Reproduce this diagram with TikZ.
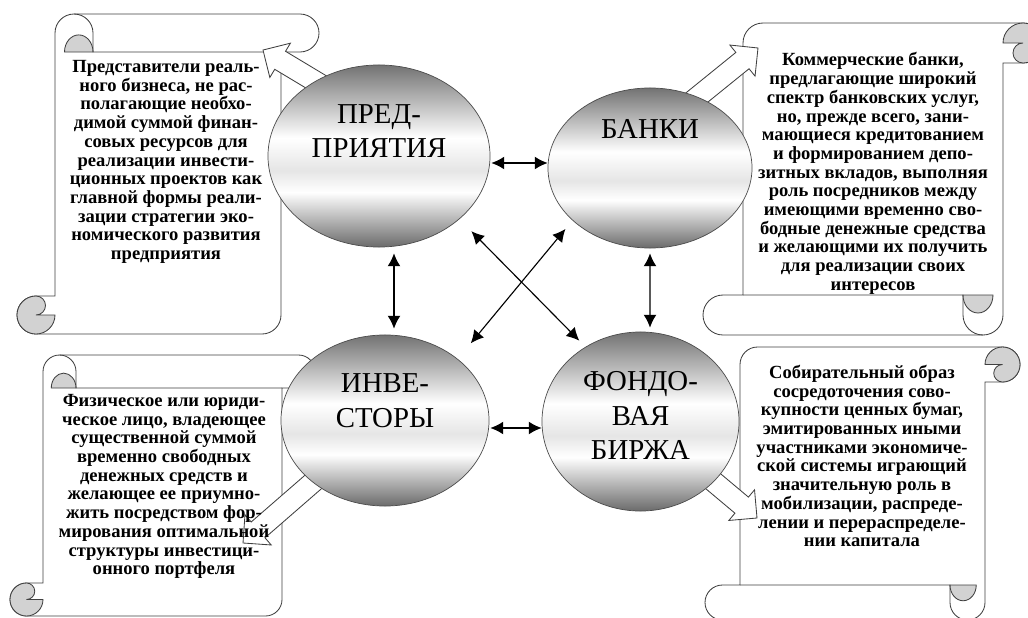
\documentclass[tikz,border=0pt]{standalone}
\usepackage{fontspec}
\setmainfont{Liberation Serif}
\usetikzlibrary{arrows.meta,calc,positioning,shapes.geometric}
\pgfdeclareverticalshading{chrome}{100bp}{color(0bp)=(black!58);color(25bp)=(black!58);color(40bp)=(white);color(46bp)=(black!10);color(55bp)=(white);color(75bp)=(black!55);color(100bp)=(black!55)}
% scroll: left, top, right, bottom, roll size (pixels)
\newcommand\scrl[5]{%
\pgfmathsetmacro\sh{#5/2}\pgfmathsetmacro\sq{#5/4}%
\pgfmathsetmacro\sa{#1+#5}\pgfmathsetmacro\sb{#3-#5}%
\filldraw[sc](\sa,#2+\sh)arc[start angle=180,end angle=270,radius=\sh]--(#3-\sh,#2)
 arc[start angle=270,end angle=450,radius=\sh]--(\sb,#2+#5)--(\sb,#4-\sh)
 arc[start angle=0,end angle=90,radius=\sh]--(#1+\sh,#4)
 arc[start angle=90,end angle=270,radius=\sh]--(\sa,#4-#5)--cycle;
\draw[sc,fill=none](\sb,#2+#5)--(\sa+#5,#2+#5)--(\sa+#5,#2+\sh)arc[start angle=0,end angle=-90,radius=\sh];
\filldraw[sc,fill=gray!35](\sa+\sq,#2+#5)arc[start angle=180,end angle=360,x radius=1.5*\sq,y radius=0.9*\sh]--cycle;
\filldraw[sc,fill=gray!35](#1+\sh,#4-#5)arc[start angle=270,end angle=0,radius=\sh]--(#1+\sh,#4-\sh)
 arc[start angle=90,end angle=-90,radius=\sq]--cycle;}
% block arrow: tip x, tip y, angle
\newcommand\barr[3]{\draw[bar,shift={(#1,#2)},rotate=#3](0,0)--(-20,-20)--(-20,-10.5)--(-100,-10.5)--(-100,10.5)--(-20,10.5)--(-20,20)--cycle;}
\begin{document}
\begin{tikzpicture}[x=0.025cm,y=-0.025cm,
 sc/.style={draw=black!75,line width=0.6pt,fill=white},
 bar/.style={draw=black!75,line width=0.6pt,fill=white},
 oval/.style={ellipse,draw=black!70,line width=0.5pt,shading=chrome,inner sep=0pt},
 lbl/.style={align=center,font=\fontsize{20.5}{24.5}\selectfont},
 txt/.style={align=center,font=\bfseries\fontsize{13.2}{13.3}\selectfont},
 dbl/.style={{Latex[length=3.2mm,width=3.2mm]}-{Latex[length=3.2mm,width=3.2mm]},line width=0.8pt}]
\useasboundingbox(0,0)rectangle(1028,618);
\scrl{17}{14}{319}{334}{38}
\scrl{10}{355}{315}{616}{33}
\begin{scope}[rotate around={180:(873,179)}]\scrl{703}{23}{1043}{335}{40}\end{scope}
\begin{scope}[rotate around={180:(862.5,483.5)}]\scrl{705}{347}{1020}{620}{35}\end{scope}
\barr{263}{50}{149}
\barr{758}{48}{39}
\barr{243}{543}{-139}
\barr{757}{518}{-40}
\node[txt](t1)at(166,162){Представители реаль-\\ного бизнеса, не рас-\\полагающие необхо-\\димой суммой финан-\\совых ресурсов для\\реализации инвести-\\ционных проектов как\\главной формы реали-\\зации стратегии эко-\\номического развития\\предприятия};
\node[txt](t2)at(873,173.5){Коммерческие банки,\\предлагающие широкий\\спектр банковских услуг,\\но, прежде всего, зани-\\мающиеся кредитованием\\и формированием депо-\\зитных вкладов, выполняя\\роль посредников между\\имеющими временно сво-\\бодные денежные средства\\и желающими их получить\\для реализации своих\\интересов};
\node[txt](t3)at(164,486.5){Физическое или юриди-\\ческое лицо, владеющее\\существенной суммой\\временно свободных\\денежных средств и\\желающее ее приумно-\\жить посредством фор-\\мирования оптимальной\\структуры инвестици-\\онного портфеля};
\node[txt](t4)at(862,456){Собирательный образ\\сосредоточения сово-\\купности ценных бумаг,\\эмитированных иными\\участниками экономиче-\\ской системы играющий\\значительную роль в\\мобилизации, распреде-\\лении и перераспределе-\\нии капитала};
\node[oval,minimum width=5.55cm,minimum height=4.55cm](pred)at(379,156){};
\node[oval,minimum width=5.1cm,minimum height=4cm](bank)at(650,168){};
\node[oval,minimum width=5.2cm,minimum height=4.275cm](inv)at(385,420.5){};
\node[oval,minimum width=4.925cm,minimum height=4.475cm](fond)at(640.5,421.5){};
\node[lbl]at([yshift=.625cm]pred){ПРЕД-\\ПРИЯТИЯ};
\node[lbl]at([yshift=.975cm]bank){БАНКИ};
\node[lbl]at([yshift=.5cm]inv){ИНВЕ-\\СТОРЫ};
\node[lbl]at([yshift=.15cm]fond){ФОНДО-\\ВАЯ\\БИРЖА};
\draw[dbl]([shift={(1,7)}]pred.east)--([shift={(0,-5)}]bank.west);
\draw[dbl]([shift={(15,6)}]pred.south)--([shift={(9,-6)}]inv.north);
\draw[dbl]([shift={(0,5)}]bank.south)--([shift={(9.5,-4)}]fond.north);
\draw[dbl]([shift={(1,7.5)}]inv.east)--([shift={(0,6.5)}]fond.west);
\draw[dbl]([shift={(13.6,10.6)}]pred.south east)--([shift={(8.7,-17.3)}]fond.north west);
\draw[dbl]([shift={(-12.1,4.1)}]bank.south west)--([shift={(12,-16.5)}]inv.north east);
\end{tikzpicture}
\end{document}
